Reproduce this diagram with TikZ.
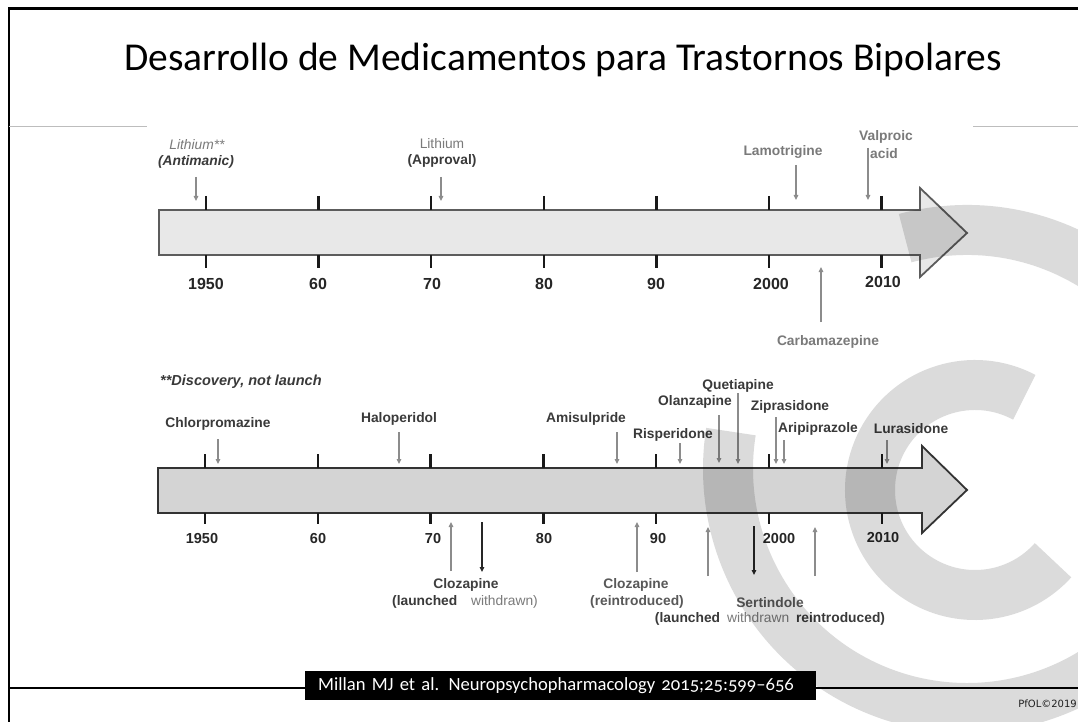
\documentclass[tikz,border=0pt]{standalone}
\usepackage{fontspec}
\setmainfont{Liberation Sans}
\newfontfamily\titlefont{Carlito}
\newfontfamily\citefont[Numbers=OldStyle]{Carlito}
\newfontfamily\pfolfont{DejaVu Sans}
\usetikzlibrary{arrows.meta}
\definecolor{dg}{HTML}{3A3A3A}
\definecolor{mg}{HTML}{7A7A7A}
\definecolor{ag}{HTML}{8C8C8C}
\definecolor{fillA}{HTML}{E8E8E8}
\definecolor{fillB}{HTML}{D4D4D4}
\definecolor{edgeA}{HTML}{5C5C5C}
\definecolor{edgeB}{HTML}{333333}
\definecolor{rule}{HTML}{BDBDBD}
\begin{document}
\begin{tikzpicture}[x=1pt,y=-1pt,
 lbl/.style={font=\fontsize{13.8}{15}\selectfont\bfseries, text=dg, inner sep=0pt},
 glbl/.style={lbl, text=mg},
 yrA/.style={font=\fontsize{16}{18}\selectfont\bfseries, text=black!85, inner sep=0pt},
 yrB/.style={font=\fontsize{14.5}{16}\selectfont\bfseries, text=black!85, inner sep=0pt},
 garrow/.style={draw=ag, line width=1.2pt, -{Triangle[length=5pt,width=4.5pt]}},
 karrow/.style={draw=black!85, line width=1.4pt, -{Triangle[length=5pt,width=4.5pt]}},
 tickmark/.style={line width=2.4pt, draw=black!90},
 frameline/.style={line width=2.2pt, draw=black},
 wmark/.style={draw=black, draw opacity=0.14, line width=50pt}
]
\useasboundingbox (0,0) rectangle (1078,722);
\fill[white] (0,0) rectangle (1078,722);

% frame
\draw[frameline] (9,722) -- (9,8.5) -- (1078,8.5);
\draw[frameline] (9,688) -- (305,688);
\draw[frameline] (816,688) -- (1078,688);
\draw[rule, line width=1pt] (9,127) -- (147,127);
\draw[rule, line width=1pt] (973,127) -- (1078,127);

% title
\node[font=\titlefont\fontsize{39.5}{42}\selectfont, anchor=base] (title) at (563,71) {Desarrollo de Medicamentos para Trastornos Bipolares};

% ---------- top timeline ----------
\draw[fill=fillA, draw=edgeA, line width=1.8pt, line join=miter] (159,210) -- (920,210) -- (920,188) -- (967,233) -- (920,277) -- (920,255) -- (159,255) -- cycle;
\foreach \i in {0,...,6} {
  \draw[tickmark] ({206+112.6*\i},196) -- ({206+112.6*\i},210);
  \draw[tickmark] ({206+112.6*\i},255) -- ({206+112.6*\i},268);
}
\node[yrA] (ya1) at (206,284) {1950};
\node[yrA] (ya2) at (318,284) {60};
\node[yrA] (ya3) at (432,284) {70};
\node[yrA] (ya4) at (544,284) {80};
\node[yrA] (ya5) at (656,284) {90};
\node[yrA] (ya6) at (771,284) {2000};
\node[yrA] (ya7) at (883,282) {2010};

% top annotations
\node[font=\fontsize{13.8}{15}\selectfont\itshape, text=mg, inner sep=0pt] (lith1) at (197,145) {Lithium**};
\node[lbl, font=\fontsize{13.8}{15}\selectfont\bfseries\itshape] (anti) at (196,162) {(Antimanic)};
\coordinate (a1s) at (196,177); \coordinate (a1e) at (196,201);
\draw[garrow] (a1s) -- (a1e);

\node[font=\fontsize{13.8}{15}\selectfont, text=mg, inner sep=0pt] (lith2) at (442,144) {Lithium};
\node[lbl] (appr) at (442,161) {(Approval)};
\coordinate (a2s) at (441,177); \coordinate (a2e) at (441,201);
\draw[garrow] (a2s) -- (a2e);

\node[glbl] (lamo) at (783,152) {Lamotrigine};
\coordinate (a3s) at (796,165); \coordinate (a3e) at (796,200);
\draw[garrow] (a3s) -- (a3e);

\node[glbl] (valp) at (886,137) {Valproic};
\node[glbl] (acid) at (884,154) {acid};
\coordinate (a4s) at (868,148); \coordinate (a4e) at (868,200);
\draw[garrow] (a4s) -- (a4e);

\node[glbl] (carb) at (828,342) {Carbamazepine};
\coordinate (a5s) at (821,322); \coordinate (a5e) at (821,267);
\draw[garrow] (a5s) -- (a5e);

\node[lbl, font=\fontsize{14.5}{16}\selectfont\bfseries\itshape, anchor=west] (disc) at (160,382) {**Discovery, not launch};

% ---------- bottom timeline ----------
\draw[fill=fillB, draw=edgeB, line width=1.8pt, line join=miter] (158,468) -- (922,468) -- (922,446) -- (967,490) -- (922,533) -- (922,513) -- (158,513) -- cycle;
\foreach \i in {0,...,6} {
  \draw[tickmark] ({205+112.8*\i},454) -- ({205+112.8*\i},468);
  \draw[tickmark] ({205+112.8*\i},513) -- ({205+112.8*\i},524);
}
\node[yrB] (yb1) at (202,539) {1950};
\node[yrB] (yb2) at (318,539) {60};
\node[yrB] (yb3) at (433,539) {70};
\node[yrB] (yb4) at (544,539) {80};
\node[yrB] (yb5) at (658,539) {90};
\node[yrB] (yb6) at (779,539) {2000};
\node[yrB] (yb7) at (883,538) {2010};

% drugs above
\node[lbl] (chlor) at (218,424) {Chlorpromazine};
\coordinate (b1s) at (218,439); \coordinate (b1e) at (218,464);
\draw[garrow] (b1s) -- (b1e);
\node[lbl] (halo) at (399,419) {Haloperidol};
\coordinate (b2s) at (399,432); \coordinate (b2e) at (399,464);
\draw[garrow] (b2s) -- (b2e);
\node[lbl] (amis) at (586,419) {Amisulpride};
\coordinate (b3s) at (617,432); \coordinate (b3e) at (617,464);
\draw[garrow] (b3s) -- (b3e);
\node[lbl] (risp) at (673,435) {Risperidone};
\coordinate (b4s) at (680,443); \coordinate (b4e) at (680,464);
\draw[garrow] (b4s) -- (b4e);
\node[lbl] (olan) at (695,402) {Olanzapine};
\coordinate (b5s) at (719,415); \coordinate (b5e) at (719,463);
\draw[garrow] (b5s) -- (b5e);
\node[lbl] (quet) at (738,386) {Quetiapine};
\coordinate (b6s) at (738,393); \coordinate (b6e) at (738,464);
\draw[garrow] (b6s) -- (b6e);
\node[lbl] (zipr) at (790,407) {Ziprasidone};
\coordinate (b7s) at (776,417); \coordinate (b7e) at (776,464);
\draw[garrow] (b7s) -- (b7e);
\node[lbl] (arip) at (818,429) {Aripiprazole};
\coordinate (b8s) at (784,440); \coordinate (b8e) at (784,464);
\draw[garrow] (b8s) -- (b8e);
\node[lbl] (lura) at (911,429) {Lurasidone};
\coordinate (b9s) at (887,440); \coordinate (b9e) at (887,464);
\draw[garrow] (b9s) -- (b9e);

% events below
\coordinate (c1s) at (451,571); \coordinate (c1e) at (451,522);
\draw[garrow] (c1s) -- (c1e);
\coordinate (c2s) at (482,522); \coordinate (c2e) at (482,572);
\draw[karrow] (c2s) -- (c2e);
\node[lbl, text=black!75] (cloz1) at (466,585) {Clozapine};
\node[lbl] (cloz1b) at (465,602) {(launched\quad{\mdseries\color{mg}withdrawn)}};

\coordinate (c3s) at (637,572); \coordinate (c3e) at (637,522);
\draw[garrow] (c3s) -- (c3e);
\node[lbl, text=black!65] (cloz2) at (636,585) {Clozapine};
\node[lbl, text=black!65] (cloz2b) at (637,602) {(reintroduced)};

\coordinate (c4s) at (708,576); \coordinate (c4e) at (708,527);
\draw[garrow] (c4s) -- (c4e);
\coordinate (c5s) at (754,526); \coordinate (c5e) at (754,575);
\draw[karrow] (c5s) -- (c5e);
\coordinate (c6s) at (815,576); \coordinate (c6e) at (815,527);
\draw[garrow] (c6s) -- (c6e);
\node[lbl, text=black!65] (sert) at (770,603) {Sertindole};
\node[lbl] (sertb) at (770,619) {(launched\enspace{\mdseries\color{mg}withdrawn}\enspace reintroduced)};

% citation
\node[fill=black, text=white, anchor=west, minimum height=29pt, text width=485pt, inner xsep=13pt, align=left,
      font=\citefont\fontsize{18.6}{20}\selectfont] (cite) at (305,685.5) {Millan MJ et al. Neuropsychopharmacology 2015;25:599–656};
\node[font=\pfolfont\fontsize{10}{12}\selectfont, text=black!85, anchor=east, inner sep=0pt] (pfol) at (1077,704) {PfOL©2019};

% watermark
\draw[wmark] (967,469) ++(-105:239) arc[start angle=-105, end angle=189, radius=239];
\draw[wmark] (975,490) ++(-62:105) arc[start angle=-62, end angle=-318, radius=105];
\end{tikzpicture}
\end{document}
